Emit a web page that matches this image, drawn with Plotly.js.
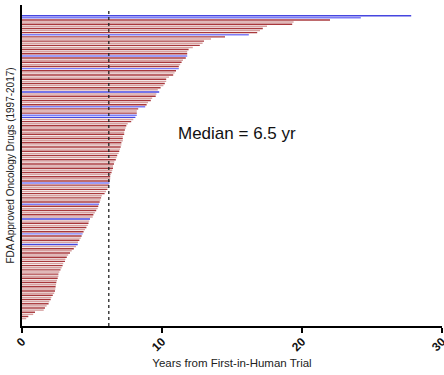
<!DOCTYPE html>
<html>
<head>
<meta charset="utf-8">
<script src="https://cdn.plot.ly/plotly-3.0.1.min.js"></script>
<style>html,body{margin:0;padding:0;background:#fff;}#chart{width:444px;height:375px;}</style>
</head>
<body>
<div id="chart"></div>
<script>
// Years from first-in-human trial to FDA approval, sorted longest first
const yearsToApproval = [
  27.8, 24.2, 22.0, 19.4, 19.3, 17.5, 17.2, 17.0, 16.8, 16.2,
  14.5, 13.5, 13.0, 12.9, 12.7, 12.2, 11.9, 11.8, 11.8, 11.8,
  11.7, 11.5, 11.4, 11.3, 11.2, 11.2, 11.0, 10.9, 10.8, 10.5,
  10.3, 10.3, 10.2, 10.1, 9.9, 9.7, 9.8, 9.6, 9.55, 9.3,
  9.2, 9.0, 8.9, 8.8, 8.3, 8.2, 8.2, 8.2, 8.1, 7.95,
  7.8, 7.55, 7.45, 7.4, 7.35, 7.3, 7.3, 7.2, 7.2, 7.2,
  7.1, 7.1, 7.05, 7.0, 6.95, 6.9, 6.8, 6.75, 6.7, 6.6,
  6.57, 6.5, 6.5, 6.45, 6.4, 6.35, 6.3, 6.3, 6.28, 6.25,
  6.2, 6.15, 6.1, 6.0, 5.9, 5.7, 5.65, 5.6, 5.55, 5.5,
  5.45, 5.4, 5.3, 5.2, 5.1, 5.05, 4.86, 4.8, 4.75, 4.7,
  4.6, 4.5, 4.4, 4.33, 4.26, 4.2, 4.1, 4.0, 3.98, 3.86,
  3.7, 3.55, 3.43, 3.3, 3.2, 3.1, 3.07, 2.95, 2.9, 2.83,
  2.75, 2.67, 2.6, 2.6, 2.55, 2.5, 2.45, 2.43, 2.4, 2.38,
  2.36, 2.3, 2.2, 2.1, 2.05, 1.95, 1.9, 1.76, 1.64, 1.55,
  0.93, 0.8, 0.45, 0.3
];
// positions (0-based, from top) of the drugs drawn in blue
const blueDrugs = [0, 1, 9, 19, 25, 36, 43, 47, 48, 79, 89, 96, 103, 108];
const medianLineYears = 6.2;
const medianLabel = "Median = 6.5 yr";
const xTicks = [0, 10, 20, 30];
const xTitle = "Years from First-in-Human Trial";
const yTitle = "FDA Approved Oncology Drugs (1997-2017)";

const n = yearsToApproval.length;
const rank = yearsToApproval.map((_, i) => i);
const colors = rank.map(i => {
  const blue = blueDrugs.includes(i);
  const dark = i % 2 === 0;
  if (blue) return dark ? '#4646e0' : '#7c7cf8';
  return dark ? '#a8383c' : '#d6a0a0';
});

const trace = {
  type: 'bar',
  orientation: 'h',
  x: yearsToApproval,
  y: rank,
  width: 0.68,
  marker: {color: colors, line: {width: 0}},
  hoverinfo: 'x'
};

const layout = {
  width: 444, height: 375,
  margin: {l: 22, r: 2, t: 5, b: 49},
  paper_bgcolor: '#fff', plot_bgcolor: '#fff',
  showlegend: false,
  font: {family: 'Liberation Sans, Arial, sans-serif', color: '#222'},
  xaxis: {
    range: [0, 30],
    tickvals: xTicks,
    ticktext: xTicks.map(String),
    tickangle: -45,
    tickfont: {size: 12, color: '#111', weight: 'bold'},
    ticks: 'outside', ticklen: 5, tickwidth: 2, tickcolor: '#000',
    ticklabelstandoff: -3,
    ticklabeloverflow: 'allow',
    showline: true, linecolor: '#000', linewidth: 2,
    showgrid: false, zeroline: false,
    title: {text: xTitle, font: {size: 11.5, color: '#222'}, standoff: 6},
    automargin: false
  },
  yaxis: {
    range: [n - 1 + 3.5, -5.05],
    showticklabels: false, ticks: '',
    showline: true, linecolor: '#000', linewidth: 2,
    showgrid: false, zeroline: false,
    title: {text: yTitle, font: {size: 10, color: '#222'}, standoff: 4},
    automargin: false
  },
  shapes: [{
    type: 'line', xref: 'x', yref: 'paper',
    x0: medianLineYears, x1: medianLineYears, y0: 0, y1: 0.99,
    line: {color: '#222', width: 1.3, dash: 'dot'}
  }],
  annotations: [{
    text: medianLabel, xref: 'x', yref: 'paper',
    x: 15.36, y: 0.601, showarrow: false,
    font: {size: 17, color: '#111'}
  }]
};

Plotly.newPlot('chart', [trace], layout, {displayModeBar: false, staticPlot: true});
</script>
</body>
</html>
